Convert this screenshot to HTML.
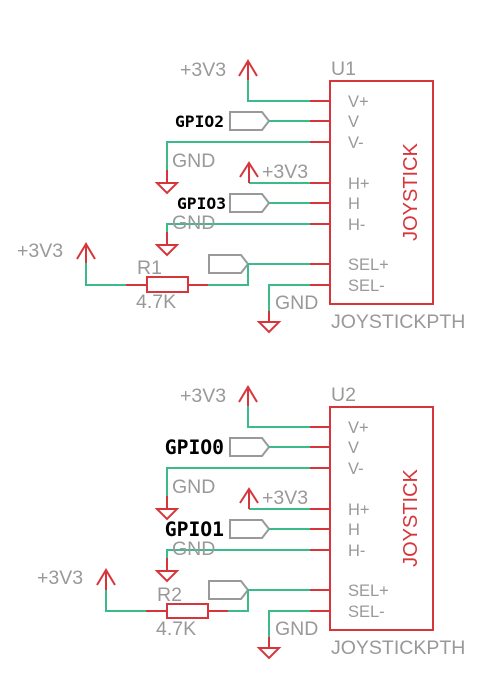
<!DOCTYPE html>
<html><head><meta charset="utf-8"><style>
html,body{margin:0;padding:0;background:#fff;}
svg{display:block;}
text{font-family:"Liberation Sans",sans-serif;fill:#999;}
.r{stroke:#d6363b;fill:none;stroke-width:2;}
.g{stroke:#3dba8a;fill:none;stroke-width:2;}
.p{stroke:#999;fill:none;stroke-width:2;}
.b{font-family:"DejaVu Sans Mono","Liberation Mono",monospace;font-weight:bold;fill:#000;}
</style></head><body>
<svg width="490" height="690" viewBox="0 0 490 690" xmlns="http://www.w3.org/2000/svg">
<defs>
<g id="blk">
  <rect class="r" x="330" y="81" width="103" height="223"/>
  <text x="331" y="328" font-size="19.5">JOYSTICKPTH</text>
  <text transform="translate(417,192) rotate(-90)" text-anchor="middle" font-size="20" style="fill:#d6363b">JOYSTICK</text>
  <g font-size="16.5">
  <text x="348" y="107">V+</text><text x="348" y="127">V</text><text x="348" y="148">V-</text>
  <text x="348" y="189">H+</text><text x="348" y="209">H</text><text x="348" y="230">H-</text>
  <text x="348" y="270">SEL+</text><text x="348" y="291">SEL-</text>
  </g>
  <path class="r" d="M310 101H330M310 121H330M310 142H330M310 183H330M310 203H330M310 224H330M310 264H330M310 285H330"/>
  <path class="g" d="M248 80V101H310"/>
  <path class="r" d="M248 80V61M239 76L248 61L257 76"/>
  <text x="180" y="76" font-size="19.5">+3V3</text>
  <path class="p" d="M230 112H262L269 121L262 130H230Z"/>
  <path class="g" d="M269 121H310"/>
  <path class="g" d="M310 142H167V170"/>
  <path class="r" d="M167 170V183M157 183H177L167 193Z"/>
  <text x="172" y="167" font-size="19.5">GND</text>
  <path class="g" d="M249 183H310"/>
  <path class="r" d="M249 183V163M240 177L249 163L258 177"/>
  <text x="262" y="178" font-size="19.5">+3V3</text>
  <path class="p" d="M230 194H262L269 203L262 212H230Z"/>
  <path class="g" d="M269 203H310"/>
  <path class="g" d="M310 224H167V232"/>
  <path class="r" d="M167 232V245M157 245H177L167 255Z"/>
  <text x="172" y="229" font-size="19.5">GND</text>
  <path class="p" d="M209 255H241L248 264L241 273H209Z"/>
  <path class="g" d="M248 264H310"/>
  <path class="g" d="M310 285H269V311"/>
  <path class="r" d="M269 311V322M259 322H279L269 332Z"/>
  <text x="275" y="309" font-size="19.5">GND</text>
</g>
</defs>
<use href="#blk"/>
<g transform="translate(0,326)"><use href="#blk"/></g>
<text x="331" y="75" font-size="19.5">U1</text>
<text x="331" y="401" font-size="19.5">U2</text>
<text class="b" x="224" y="127" font-size="16.3" text-anchor="end">GPIO2</text>
<text class="b" x="226" y="209" font-size="16.3" text-anchor="end">GPIO3</text>
<text class="b" x="224" y="454" font-size="19.7" text-anchor="end">GPIO0</text>
<text class="b" x="224" y="536" font-size="19.7" text-anchor="end">GPIO1</text>
<path class="g" d="M248 264V285H208M126 285H86V263"/>
<path class="r" d="M208 285H188M147 285H126"/>
<rect class="r" x="147" y="277" width="41" height="15"/>
<path class="r" d="M86 263V244M77 259L86 244L95 259"/>
<text x="17" y="257" font-size="19.5">+3V3</text>
<text x="137" y="274" font-size="19.5">R1</text>
<text x="136" y="308" font-size="19.5">4.7K</text>
<path class="g" d="M248 590V611H228M146 611H106V590"/>
<path class="r" d="M228 611H208M167 611H146"/>
<rect class="r" x="167" y="604" width="41" height="14"/>
<path class="r" d="M106 590V570M97 585L106 570L115 585"/>
<text x="37" y="584" font-size="19.5">+3V3</text>
<text x="157" y="601" font-size="19.5">R2</text>
<text x="156" y="635" font-size="19.5">4.7K</text>
</svg>
</body></html>
